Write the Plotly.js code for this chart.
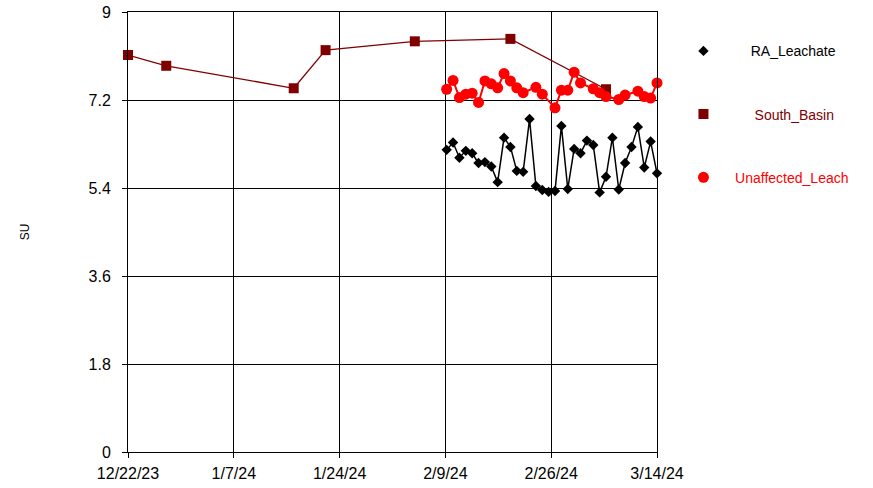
<!DOCTYPE html>
<html>
<head>
<meta charset="utf-8">
<script src="https://cdn.plot.ly/plotly-3.0.1.min.js"></script>
<style>html,body{margin:0;padding:0;background:#fff;}#chart{width:873px;height:488px;}</style>
</head>
<body>
<div id="chart"></div>
<script>
// ---- data ----
const raDates = ['2024-02-10','2024-02-11','2024-02-12','2024-02-13','2024-02-14','2024-02-15','2024-02-16','2024-02-17','2024-02-18','2024-02-19','2024-02-20','2024-02-21','2024-02-22','2024-02-23','2024-02-24','2024-02-25','2024-02-26','2024-02-27','2024-02-28','2024-02-29','2024-03-01','2024-03-02','2024-03-03','2024-03-04','2024-03-05','2024-03-06','2024-03-07','2024-03-08','2024-03-09','2024-03-10','2024-03-11','2024-03-12','2024-03-13','2024-03-14'];
const raValues = [6.18,6.33,6.02,6.16,6.11,5.91,5.93,5.84,5.52,6.43,6.24,5.75,5.73,6.81,5.44,5.36,5.32,5.34,6.67,5.38,6.20,6.11,6.37,6.28,5.31,5.63,6.43,5.37,5.91,6.24,6.65,5.82,6.35,5.70];

const southDates = ['2023-12-22','2023-12-28','2024-01-17','2024-01-22','2024-02-05','2024-02-20','2024-03-06'];
const southValues = [8.12,7.90,7.44,8.22,8.40,8.45,7.42];

const unaffDates = ['2024-02-10','2024-02-11','2024-02-12','2024-02-13','2024-02-14','2024-02-15','2024-02-16','2024-02-17','2024-02-18','2024-02-19','2024-02-20','2024-02-21','2024-02-22','2024-02-24','2024-02-25','2024-02-27','2024-02-28','2024-02-29','2024-03-01','2024-03-02','2024-03-04','2024-03-05','2024-03-06','2024-03-08','2024-03-09','2024-03-11','2024-03-12','2024-03-13','2024-03-14'];
const unaffValues = [7.42,7.60,7.25,7.32,7.34,7.15,7.59,7.53,7.45,7.74,7.59,7.45,7.35,7.46,7.32,7.04,7.40,7.40,7.77,7.55,7.43,7.35,7.27,7.21,7.30,7.38,7.27,7.24,7.55];

const xTickVals = ['2023-12-22','2024-01-07 14:24','2024-01-24 04:48','2024-02-09 19:12','2024-02-26 09:36','2024-03-14'];
const xTickText = ['12/22/23','1/7/24','1/24/24','2/9/24','2/26/24','3/14/24'];
const yTickVals = [0,1.8,3.6,5.4,7.2,9];
const yTickText = ['0','1.8','3.6','5.4','7.2','9'];

const names = ['RA_Leachate','South_Basin','Unaffected_Leach'];
const NB = '\u00a0';

function series(x, y, label, color, lw, sym, size) {
  return [
    {x: x, y: y, mode: 'lines', showlegend: false, hoverinfo: 'skip',
     line: {color: color, width: lw}},
    {x: x, y: y, mode: 'markers', name: label, legendgroup: label, cliponaxis: false,
     marker: {symbol: sym, size: size, color: color}}
  ];
}

const traces = [].concat(
  series(raDates, raValues, NB.repeat(7) + names[0], '#000000', 1.5, 'diamond', 8),
  series(southDates, southValues, '<span style="color:#800000">' + NB.repeat(8) + names[1] + '</span>', '#800000', 1.3, 'square', 10),
  series(unaffDates, unaffValues, '<span style="color:#ff0000">' + NB.repeat(3) + names[2] + '</span>', '#ff0000', 2, 'circle', 11)
);

const layout = {
  width: 873, height: 488,
  margin: {l: 128, r: 216, t: 12, b: 36},
  paper_bgcolor: '#ffffff', plot_bgcolor: '#ffffff',
  font: {family: 'Liberation Sans, Arial, sans-serif', color: '#000000'},
  showlegend: true,
  legend: {x: 1.05, y: 0.947, xanchor: 'left', yanchor: 'top', tracegroupgap: 42,
           font: {size: 14, color: '#000000'}, bgcolor: 'rgba(0,0,0,0)'},
  xaxis: {type: 'date', range: ['2023-12-22', '2024-03-14'],
          tickmode: 'array', tickvals: xTickVals, ticktext: xTickText,
          showgrid: true, gridcolor: '#000000', gridwidth: 1,
          showline: true, linecolor: '#000000', linewidth: 1, mirror: true,
          ticks: 'outside', ticklen: 5, tickcolor: '#000000', ticklabelstandoff: 2,
          tickfont: {size: 16}, zeroline: false},
  yaxis: {range: [0, 9], tickmode: 'array', tickvals: yTickVals, ticktext: yTickText,
          showgrid: true, gridcolor: '#000000', gridwidth: 1,
          showline: true, linecolor: '#000000', linewidth: 1, mirror: true,
          ticks: 'outside', ticklen: 5, tickcolor: '#000000', ticklabelstandoff: 8,
          tickfont: {size: 16}, zeroline: false,
          title: {text: 'SU', font: {size: 12}, standoff: 56}}
};

Plotly.newPlot('chart', traces, layout, {displayModeBar: false, staticPlot: true});
</script>
</body>
</html>
